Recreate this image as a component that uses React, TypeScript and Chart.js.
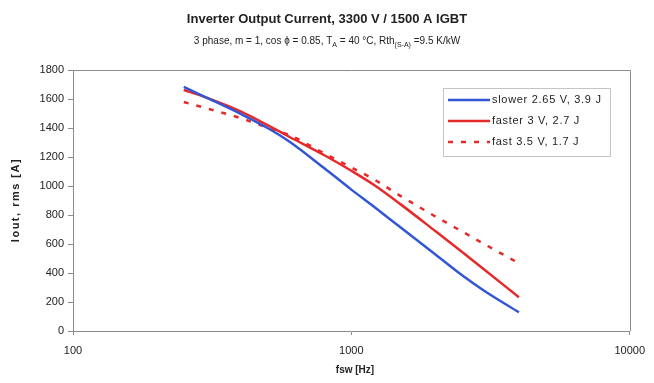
import React, { useEffect, useRef } from "react";
import { Chart, registerables } from "chart.js";

Chart.register(...registerables);

const frequencies = [250, 300, 400, 500, 600, 800, 1000, 1200, 1500, 2000, 2500, 3000, 4000];
const slowerValues = [1683, 1612, 1498, 1400, 1305, 1122, 975, 860, 715, 530, 385, 278, 129];
const fasterValues = [1662, 1611, 1515, 1420, 1338, 1212, 1105, 1010, 875, 690, 545, 424, 233];
const fastValues = [1579, 1537, 1468, 1402, 1350, 1225, 1128, 1048, 932, 791, 686, 600, 467];
const xTicks = [100, 1000, 10000];
const yMin = 0;
const yMax = 1800;
const yStep = 200;
const seriesLabels = ["slower 2.65 V, 3.9 J", "faster 3 V, 2.7 J", "fast 3.5 V, 1.7 J"];
const seriesColors = ["#3356d6", "#e62a2a", "#e62a2a"];
const seriesDashes: number[][] = [[], [], [5, 8]];
const titleText = "Inverter Output Current, 3300 V / 1500 A IGBT";
const subtitleParts: [string, boolean][] = [
  ["3 phase, m = 1, cos ", false],
  ["\u03D5", false],
  [" = 0.85, T", false],
  ["A", true],
  [" = 40 \u00B0C, Rth", false],
  ["(S-A)", true],
  [" =9.5 K/kW", false],
];
const xTitle = "fsw [Hz]";
const yTitle = "Iout, rms [A]";

const FONT = "'Liberation Sans', Arial, sans-serif";
const AXIS_GRAY = "#8c8c8c";
const TEXT = "#222";

const decorPlugin = {
  id: "decor",
  afterDraw(chart: any) {
    const ctx = chart.ctx as any;
    const a = chart.chartArea;
    ctx.save();
    ctx.strokeStyle = AXIS_GRAY;
    ctx.lineWidth = 1;
    ctx.beginPath();
    ctx.moveTo(a.left, Math.round(a.top) + 0.5);
    ctx.lineTo(Math.round(a.right) + 0.5, Math.round(a.top) + 0.5);
    ctx.lineTo(Math.round(a.right) + 0.5, a.bottom);
    ctx.stroke();

    ctx.fillStyle = TEXT;
    ctx.textAlign = "center";
    ctx.textBaseline = "middle";
    ctx.font = `bold 13px ${FONT}`;
    ctx.fillText(titleText, 327, 19);

    const normalFont = `10px ${FONT}`;
    const subFont = `7px ${FONT}`;
    let total = 0;
    for (const [t, sub] of subtitleParts) {
      ctx.font = sub ? subFont : normalFont;
      total += ctx.measureText(t).width;
    }
    let x = 327 - total / 2;
    ctx.textAlign = "left";
    ctx.textBaseline = "alphabetic";
    for (const [t, sub] of subtitleParts) {
      ctx.font = sub ? subFont : normalFont;
      ctx.fillText(t, x, sub ? 47 : 44);
      x += ctx.measureText(t).width;
    }

    ctx.font = `bold 10px ${FONT}`;
    ctx.textAlign = "center";
    ctx.textBaseline = "middle";
    ctx.fillText(xTitle, 355, 370);
    ctx.save();
    ctx.translate(16, 200);
    ctx.rotate(-Math.PI / 2);
    ctx.font = `bold 11px ${FONT}`;
    ctx.letterSpacing = "1.5px";
    ctx.fillText(yTitle, 0, 0);
    ctx.restore();

    const lx = 443, ly = 88, lw = 167, lh = 68;
    ctx.fillStyle = "#fff";
    ctx.fillRect(lx, ly, lw, lh);
    ctx.strokeStyle = "#c4c4c4";
    ctx.lineWidth = 1;
    ctx.strokeRect(lx + 0.5, ly + 0.5, lw, lh);
    const rows = [100, 121, 142];
    ctx.font = `11px ${FONT}`;
    ctx.letterSpacing = "0.7px";
    ctx.textAlign = "left";
    ctx.textBaseline = "middle";
    seriesLabels.forEach((lab, i) => {
      ctx.strokeStyle = seriesColors[i];
      ctx.lineWidth = 2.5;
      ctx.setLineDash(seriesDashes[i]);
      ctx.beginPath();
      ctx.moveTo(448, rows[i]);
      ctx.lineTo(490, rows[i]);
      ctx.stroke();
      ctx.setLineDash([]);
      ctx.fillStyle = TEXT;
      ctx.fillText(lab, 492, rows[i]);
    });
    ctx.letterSpacing = "0px";
    ctx.restore();
  },
};

export default function App() {
  const ref = useRef<HTMLCanvasElement>(null);
  useEffect(() => {
    if (!ref.current) return;
    const mk = (vals: number[]) => frequencies.map((f, i) => ({ x: f, y: vals[i] }));
    const allVals = [slowerValues, fasterValues, fastValues];
    const chart = new Chart(ref.current, {
      type: "line",
      data: {
        datasets: allVals.map((v, i) => ({
          label: seriesLabels[i],
          data: mk(v),
          borderColor: seriesColors[i],
          backgroundColor: seriesColors[i],
          borderWidth: 2.5,
          borderDash: seriesDashes[i],
          pointRadius: 0,
          cubicInterpolationMode: "monotone",
          fill: false,
        })),
      },
      options: {
        animation: false,
        responsive: false,
        layout: { padding: { top: 70, right: 19, left: 0, bottom: 0 } },
        plugins: { legend: { display: false }, title: { display: false }, tooltip: { enabled: false } },
        scales: {
          x: {
            type: "logarithmic",
            min: 100,
            max: 10000,
            afterBuildTicks: (s: any) => {
              s.ticks = xTicks.map((v) => ({ value: v }));
            },
            afterFit: (s: any) => {
              s.height = 52;
            },
            grid: { drawOnChartArea: false, drawTicks: true, tickLength: 4, color: AXIS_GRAY },
            border: { color: AXIS_GRAY, width: 1 },
            ticks: {
              color: TEXT,
              font: { family: FONT, size: 11 },
              padding: 9,
              maxRotation: 0,
              callback: (v: any) => String(v),
            },
          },
          y: {
            type: "linear",
            min: yMin,
            max: yMax,
            afterFit: (s: any) => {
              s.width = 73;
            },
            grid: { drawOnChartArea: false, drawTicks: true, tickLength: 5, color: AXIS_GRAY },
            border: { color: AXIS_GRAY, width: 1 },
            ticks: {
              stepSize: yStep,
              color: TEXT,
              font: { family: FONT, size: 11 },
              padding: 4,
              callback: (v: any) => String(v),
            },
          },
        },
      },
      plugins: [decorPlugin],
    } as any);
    return () => chart.destroy();
  }, []);
  return (
    <div style={{ position: "absolute", left: 0, top: 0, width: 654, height: 383, background: "#fff" }}>
      <canvas ref={ref} width={654} height={383} />
    </div>
  );
}
